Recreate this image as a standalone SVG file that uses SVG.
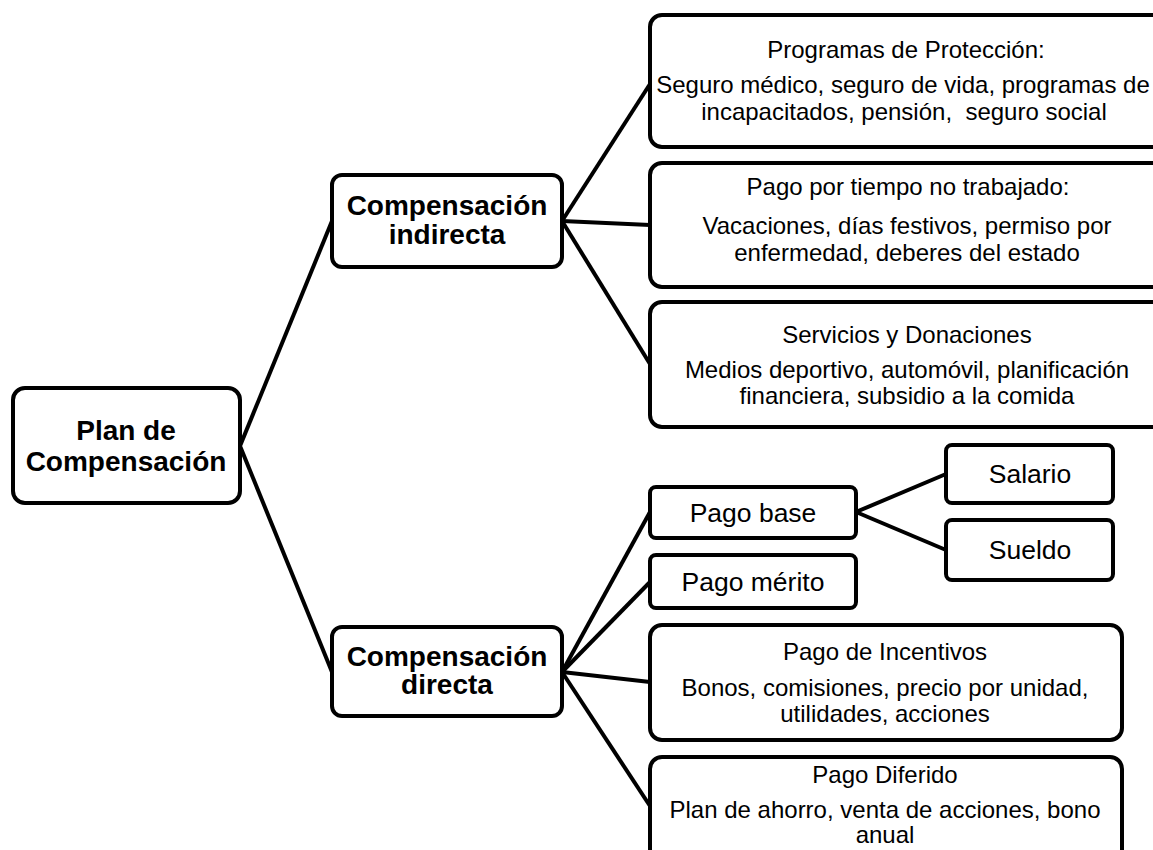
<svg xmlns="http://www.w3.org/2000/svg" width="1153" height="850" viewBox="0 0 1153 850">
  <style>
    .box { fill: #ffffff; stroke: #000000; stroke-width: 4; }
    .link { fill: none; stroke: #000000; stroke-width: 4; }
    .bold { font-family: "Liberation Sans", Arial, sans-serif; font-weight: bold; font-size: 28px; fill: #000; text-anchor: middle; }
    .desc { font-family: "Liberation Sans", Arial, sans-serif; font-size: 24px; fill: #000; text-anchor: middle; }
    .leaf { font-family: "Liberation Sans", Arial, sans-serif; font-size: 26.5px; fill: #000; text-anchor: middle; }
  </style>
  <rect width="1153" height="850" fill="#ffffff"/>

  <!-- connectors -->
  <g id="connectors">
    <line class="link" x1="240" y1="446" x2="332" y2="221"/>
    <line class="link" x1="240" y1="446" x2="332" y2="672"/>
    <line class="link" x1="562" y1="221" x2="650" y2="84"/>
    <line class="link" x1="562" y1="221" x2="650" y2="225"/>
    <line class="link" x1="562" y1="221" x2="650" y2="364"/>
    <line class="link" x1="562" y1="672" x2="650" y2="512"/>
    <line class="link" x1="562" y1="672" x2="650" y2="582"/>
    <line class="link" x1="562" y1="672" x2="650" y2="682"/>
    <line class="link" x1="562" y1="672" x2="650" y2="806"/>
    <line class="link" x1="856" y1="512" x2="946" y2="474"/>
    <line class="link" x1="856" y1="512" x2="946" y2="550"/>
  </g>

  <g id="plan">
    <rect class="box" x="13" y="388" width="227" height="115" rx="12"/>
    <text class="bold" x="126" y="440">Plan de</text>
    <text class="bold" x="126" y="471">Compensación</text>
  </g>

  <g id="indirecta">
    <rect class="box" x="332" y="175" width="230" height="92" rx="10"/>
    <text class="bold" x="447" y="215">Compensación</text>
    <text class="bold" x="447" y="244">indirecta</text>
  </g>

  <g id="directa">
    <rect class="box" x="332" y="627" width="230" height="89" rx="10"/>
    <text class="bold" x="447" y="666">Compensación</text>
    <text class="bold" x="447" y="694">directa</text>
  </g>

  <g id="proteccion">
    <rect class="box" x="650" y="15" width="515" height="132" rx="12"/>
    <text class="desc" x="906" y="58">Programas de Protección:</text>
    <text class="desc" x="903" y="93">Seguro médico, seguro de vida, programas de</text>
    <text class="desc" x="904" y="120" xml:space="preserve">incapacitados, pensión,  seguro social</text>
  </g>

  <g id="tiempo">
    <rect class="box" x="650" y="163" width="515" height="124" rx="12"/>
    <text class="desc" x="908" y="195">Pago por tiempo no trabajado:</text>
    <text class="desc" x="907" y="234">Vacaciones, días festivos, permiso por</text>
    <text class="desc" x="907" y="261">enfermedad, deberes del estado</text>
  </g>

  <g id="servicios">
    <rect class="box" x="650" y="302" width="515" height="125" rx="12"/>
    <text class="desc" x="907" y="343">Servicios y Donaciones</text>
    <text class="desc" x="907" y="378">Medios deportivo, automóvil, planificación</text>
    <text class="desc" x="907" y="404">financiera, subsidio a la comida</text>
  </g>

  <g id="pago-base">
    <rect class="box" x="650" y="487" width="206" height="51" rx="6"/>
    <text class="leaf" x="753" y="522">Pago base</text>
  </g>

  <g id="pago-merito">
    <rect class="box" x="650" y="555" width="206" height="53" rx="6"/>
    <text class="leaf" x="753" y="591">Pago mérito</text>
  </g>

  <g id="salario">
    <rect class="box" x="946" y="445" width="167" height="58" rx="6"/>
    <text class="leaf" x="1030" y="483">Salario</text>
  </g>

  <g id="sueldo">
    <rect class="box" x="946" y="520" width="167" height="60" rx="6"/>
    <text class="leaf" x="1030" y="559">Sueldo</text>
  </g>

  <g id="incentivos">
    <rect class="box" x="650" y="625" width="472" height="115" rx="12"/>
    <text class="desc" x="885" y="660">Pago de Incentivos</text>
    <text class="desc" x="885" y="696">Bonos, comisiones, precio por unidad,</text>
    <text class="desc" x="885" y="722">utilidades, acciones</text>
  </g>

  <g id="diferido">
    <rect class="box" x="650" y="757" width="472" height="110" rx="12"/>
    <text class="desc" x="885" y="783">Pago Diferido</text>
    <text class="desc" x="885" y="818">Plan de ahorro, venta de acciones, bono</text>
    <text class="desc" x="885" y="843">anual</text>
  </g>
</svg>
